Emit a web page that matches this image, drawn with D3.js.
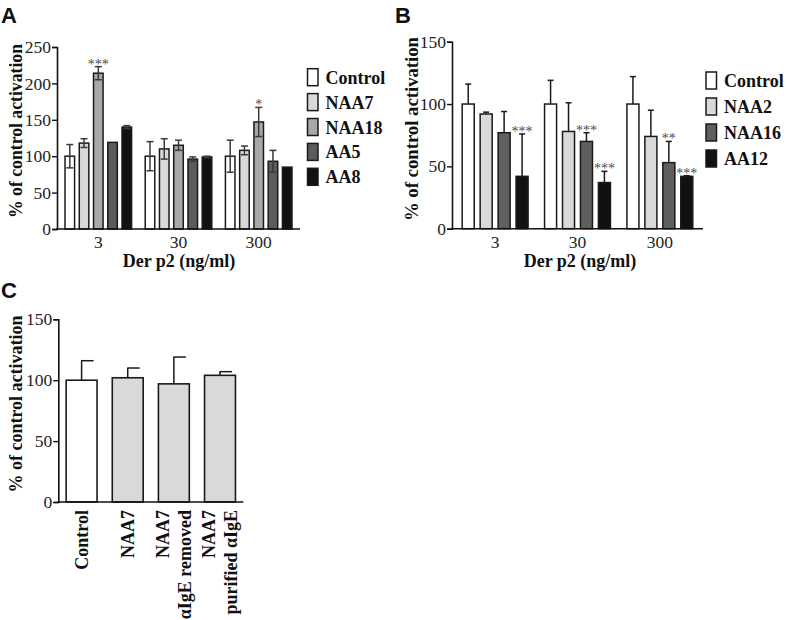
<!DOCTYPE html>
<html>
<head>
<meta charset="utf-8">
<script src="https://cdn.jsdelivr.net/npm/d3@7"></script>
<style>
  html, body { margin: 0; padding: 0; background: #fff; }
  svg { display: block; }
</style>
</head>
<body>
<svg id="chart" width="786" height="620"></svg>
<script>
// ---------- DATA ----------
// Panel A
const aGroups = ["3", "30", "300"];
const aSeries = ["Control", "NAA7", "NAA18", "AA5", "AA8"];
const aColors = ["#ffffff", "#d9d9d9", "#a8a8a8", "#5c5c5c", "#111111"];
const aControl = [100, 100, 100];
const aNAA7 = [118, 110, 108];
const aNAA18 = [214, 115, 147];
const aAA5 = [119, 96, 93];
const aAA8 = [140, 99, 85];
const aControlErr = [16, 20, 22];
const aNAA7Err = [6, 14, 6];
const aNAA18Err = [9, 7, 20];
const aAA5Err = [0, 3, 15];
const aAA8Err = [2, 1, 0];
const aStars = [["NAA18", "3", "***"], ["NAA18", "300", "*"]];
const aTicks = [0, 50, 100, 150, 200, 250];

// Panel B
const bGroups = ["3", "30", "300"];
const bSeries = ["Control", "NAA2", "NAA16", "AA12"];
const bColors = ["#ffffff", "#d9d9d9", "#5f5f5f", "#111111"];
const bControl = [100, 100, 100];
const bNAA2 = [92, 78, 74];
const bNAA16 = [77, 70, 53];
const bAA12 = [42, 37, 42];
const bControlErr = [16, 19, 22];
const bNAA2Err = [1.5, 23, 21];
const bNAA16Err = [17, 7, 17];
const bAA12Err = [34, 9, 0.5];
const bStars = [["AA12", "3", "***"], ["NAA16", "30", "***"], ["AA12", "30", "***"], ["NAA16", "300", "**"], ["AA12", "300", "***"]];
const bTicks = [0, 50, 100, 150];

// Panel C
const cCategories = ["Control", "NAA7", "NAA7 removed", "NAA7 purified"];
const cLabels = [["Control"], ["NAA7"], ["NAA7", "αIgE removed"], ["NAA7", "purified αIgE"]];
const cValues = [100, 102, 97, 104];
const cErr = [16, 8, 22, 3];
const cColors = ["#ffffff", "#d9d9d9", "#d9d9d9", "#d9d9d9"];
const cTicks = [0, 50, 100, 150];

// ---------- DRAW ----------
const svg = d3.select("#chart");
const SERIF = "'Liberation Serif', 'Times New Roman', serif";
const SANS = "'Liberation Sans', Arial, sans-serif";

function panelLetter(t, x, y) {
  svg.append("text").attr("x", x).attr("y", y).text(t)
    .attr("font-family", SANS).attr("font-weight", "bold").attr("font-size", 22).attr("fill", "#111");
}

function yAxis(y, x0, ticks) {
  const g = svg.append("g").attr("transform", `translate(${x0},0)`)
    .call(d3.axisLeft(y).tickValues(ticks).tickSize(5).tickPadding(1).tickFormat(d3.format("d")));
  g.select(".domain").attr("stroke", "#111").attr("stroke-width", 1.6);
  g.selectAll(".tick line").attr("stroke", "#111").attr("stroke-width", 1.4);
  g.selectAll(".tick text").attr("font-family", SERIF).attr("font-size", 17.5).attr("fill", "#222");
  return g;
}

function xAxisLine(x0, x1, yy) {
  svg.append("line").attr("x1", x0 - 0.8).attr("x2", x1).attr("y1", yy).attr("y2", yy)
    .attr("stroke", "#111").attr("stroke-width", 1.6);
}

function yTitle(x, y, len) {
  svg.append("text").attr("transform", `translate(${x},${y}) rotate(-90)`)
    .attr("text-anchor", "middle").attr("dy", "0.35em")
    .attr("font-family", SERIF).attr("font-weight", "bold").attr("font-size", 19).attr("fill", "#111")
    .attr("textLength", len).attr("lengthAdjust", "spacingAndGlyphs")
    .text("% of control activation");
}

function groupedPanel(opt) {
  const { groups, series, colors, values, errs, stars, ticks, yDomain, yRange, xRange,
          outerPI, outerPO, innerPI, twoSided, errColor, legendX, legendY0, legendStep, titleX } = opt;
  const y = d3.scaleLinear().domain(yDomain).range(yRange);
  const x0 = d3.scaleBand().domain(groups).range(xRange).paddingInner(outerPI).paddingOuter(outerPO);
  const x1 = d3.scaleBand().domain(series).range([0, x0.bandwidth()]).paddingInner(innerPI).paddingOuter(0);

  const g = svg.append("g");
  series.forEach((s, si) => {
    groups.forEach((grp, gi) => {
      const v = values[si][gi], e = errs[si][gi];
      const bx = x0(grp) + x1(s), bw = x1.bandwidth(), cx = bx + bw / 2;
      g.append("rect").attr("x", bx).attr("y", y(v)).attr("width", bw).attr("height", y(0) - y(v))
        .attr("fill", colors[si]).attr("stroke", "#1a1a1a").attr("stroke-width", 1.5);
      if (e > 0) {
        const cap = twoSided ? 3.5 : 3;
        const top = y(v + e), bot = twoSided ? y(v - e) : y(v);
        const col = errColor;
        g.append("line").attr("x1", cx).attr("x2", cx).attr("y1", top).attr("y2", bot)
          .attr("stroke", col).attr("stroke-width", 1.5);
        g.append("line").attr("x1", cx - cap).attr("x2", cx + cap).attr("y1", top).attr("y2", top)
          .attr("stroke", col).attr("stroke-width", 1.5);
        if (twoSided) {
          g.append("line").attr("x1", cx - cap).attr("x2", cx + cap).attr("y1", bot).attr("y2", bot)
            .attr("stroke", col).attr("stroke-width", 1.5);
        }
      }
    });
  });
  // stars
  stars.forEach(([s, grp, txt]) => {
    const si = series.indexOf(s), gi = groups.indexOf(grp);
    const v = values[si][gi], e = errs[si][gi];
    const cx = x0(grp) + x1(s) + x1.bandwidth() / 2;
    g.append("text").attr("x", cx).attr("y", y(v + e) + 2).attr("text-anchor", "middle")
      .attr("font-family", SERIF).attr("font-size", 14).attr("fill", "#4a4a4a").text(txt);
  });

  xAxisLine(xRange[0], xRange[1], y(0));
  yAxis(y, xRange[0], ticks);

  // x tick labels
  groups.forEach(grp => {
    svg.append("text").attr("x", x0(grp) + x0.bandwidth() / 2).attr("y", 247.5).attr("text-anchor", "middle")
      .attr("font-family", SERIF).attr("font-size", 17.5).attr("fill", "#222").text(grp);
  });
  svg.append("text").attr("x", titleX).attr("y", 267).attr("text-anchor", "middle")
    .attr("font-family", SERIF).attr("font-weight", "bold").attr("font-size", 18).attr("fill", "#111")
    .text("Der p2 (ng/ml)");

  // legend
  series.forEach((s, si) => {
    const cy = legendY0 + si * legendStep;
    svg.append("rect").attr("x", legendX).attr("y", cy - 8.5).attr("width", 10.5).attr("height", 17)
      .attr("fill", colors[si]).attr("stroke", "#1a1a1a").attr("stroke-width", 1.5);
    svg.append("text").attr("x", legendX + 18).attr("y", cy + 6.5)
      .attr("font-family", SERIF).attr("font-weight", "bold").attr("font-size", 18).attr("fill", "#111").text(s);
  });
}

// Panel A
panelLetter("A", 1, 23);
groupedPanel({
  groups: aGroups, series: aSeries, colors: aColors,
  values: [aControl, aNAA7, aNAA18, aAA5, aAA8],
  errs: [aControlErr, aNAA7Err, aNAA18Err, aAA5Err, aAA8Err],
  stars: aStars, ticks: aTicks, yDomain: [0, 250], yRange: [229, 47], xRange: [57, 300],
  outerPI: 0.17, outerPO: 0.1, innerPI: 0.33, twoSided: true, errColor: "#3a3a3a",
  legendX: 307.5, legendY0: 77.2, legendStep: 24.9, titleX: 179
});
yTitle(15, 131, 174);

// Panel B
panelLetter("B", 395, 23);
groupedPanel({
  groups: bGroups, series: bSeries, colors: bColors,
  values: [bControl, bNAA2, bNAA16, bAA12],
  errs: [bControlErr, bNAA2Err, bNAA16Err, bAA12Err],
  stars: bStars, ticks: bTicks, yDomain: [0, 150], yRange: [228.7, 41.7], xRange: [452, 703],
  outerPI: 0.2, outerPO: 0.124, innerPI: 0.33, twoSided: false, errColor: "#1a1a1a",
  legendX: 706, legendY0: 80.5, legendStep: 26, titleX: 580
});
yTitle(411.5, 129, 184);

// Panel C
panelLetter("C", 1, 298);
(function () {
  const y = d3.scaleLinear().domain([0, 150]).range([502, 319.3]);
  const x = d3.scaleBand().domain(cCategories).range([58.3, 243.3]).paddingInner(0.33).paddingOuter(0.17);
  const g = svg.append("g");
  cCategories.forEach((c, i) => {
    const bx = x(c), bw = x.bandwidth(), cx = bx + bw / 2;
    const v = cValues[i], e = cErr[i];
    const top = y(v + e);
    g.append("line").attr("x1", cx).attr("x2", cx).attr("y1", top).attr("y2", y(v))
      .attr("stroke", "#1a1a1a").attr("stroke-width", 1.5);
    g.append("line").attr("x1", cx - 0.5).attr("x2", cx + 12).attr("y1", top).attr("y2", top)
      .attr("stroke", "#1a1a1a").attr("stroke-width", 1.5);
    g.append("rect").attr("x", bx).attr("y", y(v)).attr("width", bw).attr("height", y(0) - y(v))
      .attr("fill", cColors[i]).attr("stroke", "#1a1a1a").attr("stroke-width", 1.6);
    const lines = cLabels[i];
    lines.forEach((t, li) => {
      const off = lines.length === 1 ? 0 : (li === 0 ? -11 : 11);
      svg.append("text").attr("transform", `translate(${cx + off},510) rotate(-90)`)
        .attr("text-anchor", "end").attr("dy", "0.35em")
        .attr("font-family", SERIF).attr("font-weight", "bold").attr("font-size", 18).attr("fill", "#111")
        .text(t);
    });
  });
  xAxisLine(58.3, 243.3, y(0));
  yAxis(y, 58.3, cTicks);
})();
yTitle(15, 404, 177);
</script>
</body>
</html>
